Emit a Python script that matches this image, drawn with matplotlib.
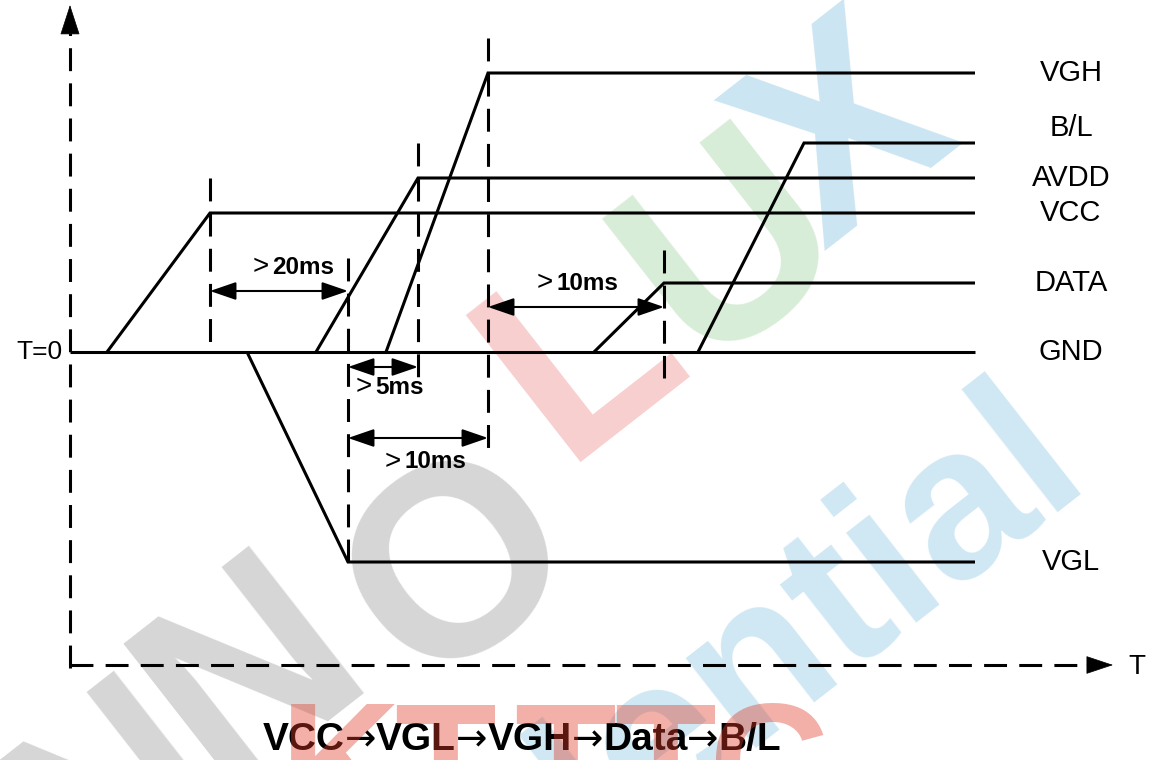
import matplotlib
matplotlib.use('Agg')
import matplotlib.pyplot as plt

# ─── Data (drawing units = pixels of the original sheet, y grows downward) ───
GND = 352
LINE_END = 975

signals   = ['VGH', 'B/L', 'AVDD', 'VCC', 'DATA', 'VGL']
rise_from = [386, 698, 316, 107, 594, 247]     # leaves GND here
rise_to   = [488, 804, 418, 210, 664, 348]     # reaches its level here
levels    = [73, 143, 178, 213, 283, 562]

label_names = ['VGH', 'B/L', 'AVDD', 'VCC', 'DATA', 'GND', 'VGL']
label_y     = [73, 128, 178, 213, 283, 352, 562]

# dashed markers: x, top, bottom
marker_x   = [210, 348, 418, 488, 664]
marker_top = [178, 258, 143, 38, 250]
marker_bot = [345, 565, 377, 448, 378]

# timing constraints: x0, x1, y, label
gap_x0   = [210, 348, 348, 488]
gap_x1   = [348, 418, 488, 664]
gap_y    = [291, 367, 438, 307]
gap_text = ['20ms', '5ms', '10ms', '10ms']
gap_tx   = [272, 375, 404, 556]
gap_ty   = [267, 387, 462, 283]

sequence = ['VCC', 'VGL', 'VGH', 'Data', 'B/L']

W, H = 1154, 760
fig = plt.figure(figsize=(W / 100, H / 100), dpi=100, facecolor='white')
ax = fig.add_axes([0, 0, 1, 1])
ax.set_xlim(0, W)
ax.set_ylim(H, 0)
ax.axis('off')

FONT = ['Liberation Sans', 'DejaVu Sans']
LW = 2.2
DASH = (7.5, 4)

# ─── watermark (underneath) ───
wm = [('N', 120, 800, '#d6d6d6'), ('N', 255, 675, '#d6d6d6'), ('O', 463, 570, '#d6d6d6'),
      ('L', 585, 355, '#f8cfcf'), ('U', 735, 250, '#d8edd8'), ('X', 850, 140, '#cbe5f2')]
for ch, x, y, c in wm:
    ax.text(x, y, ch, fontsize=195, fontweight='bold', color=c, rotation=38,
            rotation_mode='anchor', ha='center', va='center', family=FONT, zorder=0)
ax.text(568, 818, 'Confidential', fontsize=155, fontweight='bold', color='#d0e8f4',
        rotation=38, rotation_mode='anchor', ha='center', va='center', family=FONT,
        zorder=0)

# ─── axes ───
ax.plot([70, 70], [668, 33], color='black', lw=LW, dashes=DASH)
ax.annotate('', xy=(70, 5), xytext=(70, 33),
            arrowprops=dict(arrowstyle='-|>,head_length=20,head_width=6.5', color='black',
                            lw=0.5, mutation_scale=1, shrinkA=0, shrinkB=0))
ax.plot([70, 1088], [665, 665], color='black', lw=LW, dashes=DASH)
ax.annotate('', xy=(1113, 665), xytext=(1087, 665),
            arrowprops=dict(arrowstyle='-|>,head_length=18,head_width=6', color='black',
                            lw=0.5, mutation_scale=1, shrinkA=0, shrinkB=0))
ax.text(1137, 667, 'T', fontsize=20, ha='center', va='center', family=FONT)
ax.text(39, 352, 'T=0', fontsize=19, ha='center', va='center', family=FONT)

# ─── signals ───
ax.plot([70, LINE_END], [GND, GND], color='black', lw=LW, solid_capstyle='butt')
for x0, x1, lv in zip(rise_from, rise_to, levels):
    ax.plot([x0, x1, LINE_END], [GND, lv, lv], color='black', lw=LW,
            solid_capstyle='butt', solid_joinstyle='miter')

for name, y in zip(label_names, label_y):
    ax.text(1071, y, name, fontsize=21, ha='center', va='center', family=FONT)

for x, t, b in zip(marker_x, marker_top, marker_bot):
    ax.plot([x, x], [t, b], color='black', lw=LW, dashes=DASH)

for x0, x1, y, s, tx, ty in zip(gap_x0, gap_x1, gap_y, gap_text, gap_tx, gap_ty):
    ax.annotate('', xy=(x1, y), xytext=(x0, y),
                arrowprops=dict(arrowstyle='<|-|>,head_length=16,head_width=5.5',
                                color='black', lw=1.5, mutation_scale=1,
                                shrinkA=0, shrinkB=0))
    ax.text(tx - 3, ty, '>', fontsize=20, ha='right', va='center', family=FONT)
    ax.text(tx, ty, s, fontsize=17.5, fontweight='bold', ha='left', va='center',
            family=FONT)

# ─── power-on order, laid out word by word ───
renderer = fig.canvas.get_renderer()
parts = []
for i, w in enumerate(sequence):
    if i:
        parts.append(ax.text(0, 740, '\u2192', fontsize=27, ha='left', va='center',
                             family=['DejaVu Sans']))
    parts.append(ax.text(0, 740, w, fontsize=28, fontweight='bold', ha='left',
                         va='center', family=FONT))
widths = [p.get_window_extent(renderer).width for p in parts]
x = 522 - sum(widths) / 2
for p, wdt in zip(parts, widths):
    p.set_x(x)
    x += wdt

# ─── stamp on top ───
for ch, x in zip('KTTTC', [340, 445, 565, 665, 768]):
    ax.text(x, 698, ch, fontsize=120, fontweight='bold', color='#df3b28', alpha=0.4,
            ha='center', va='top', family=FONT, zorder=5)

fig.savefig('out.png', dpi=100, facecolor='white')
